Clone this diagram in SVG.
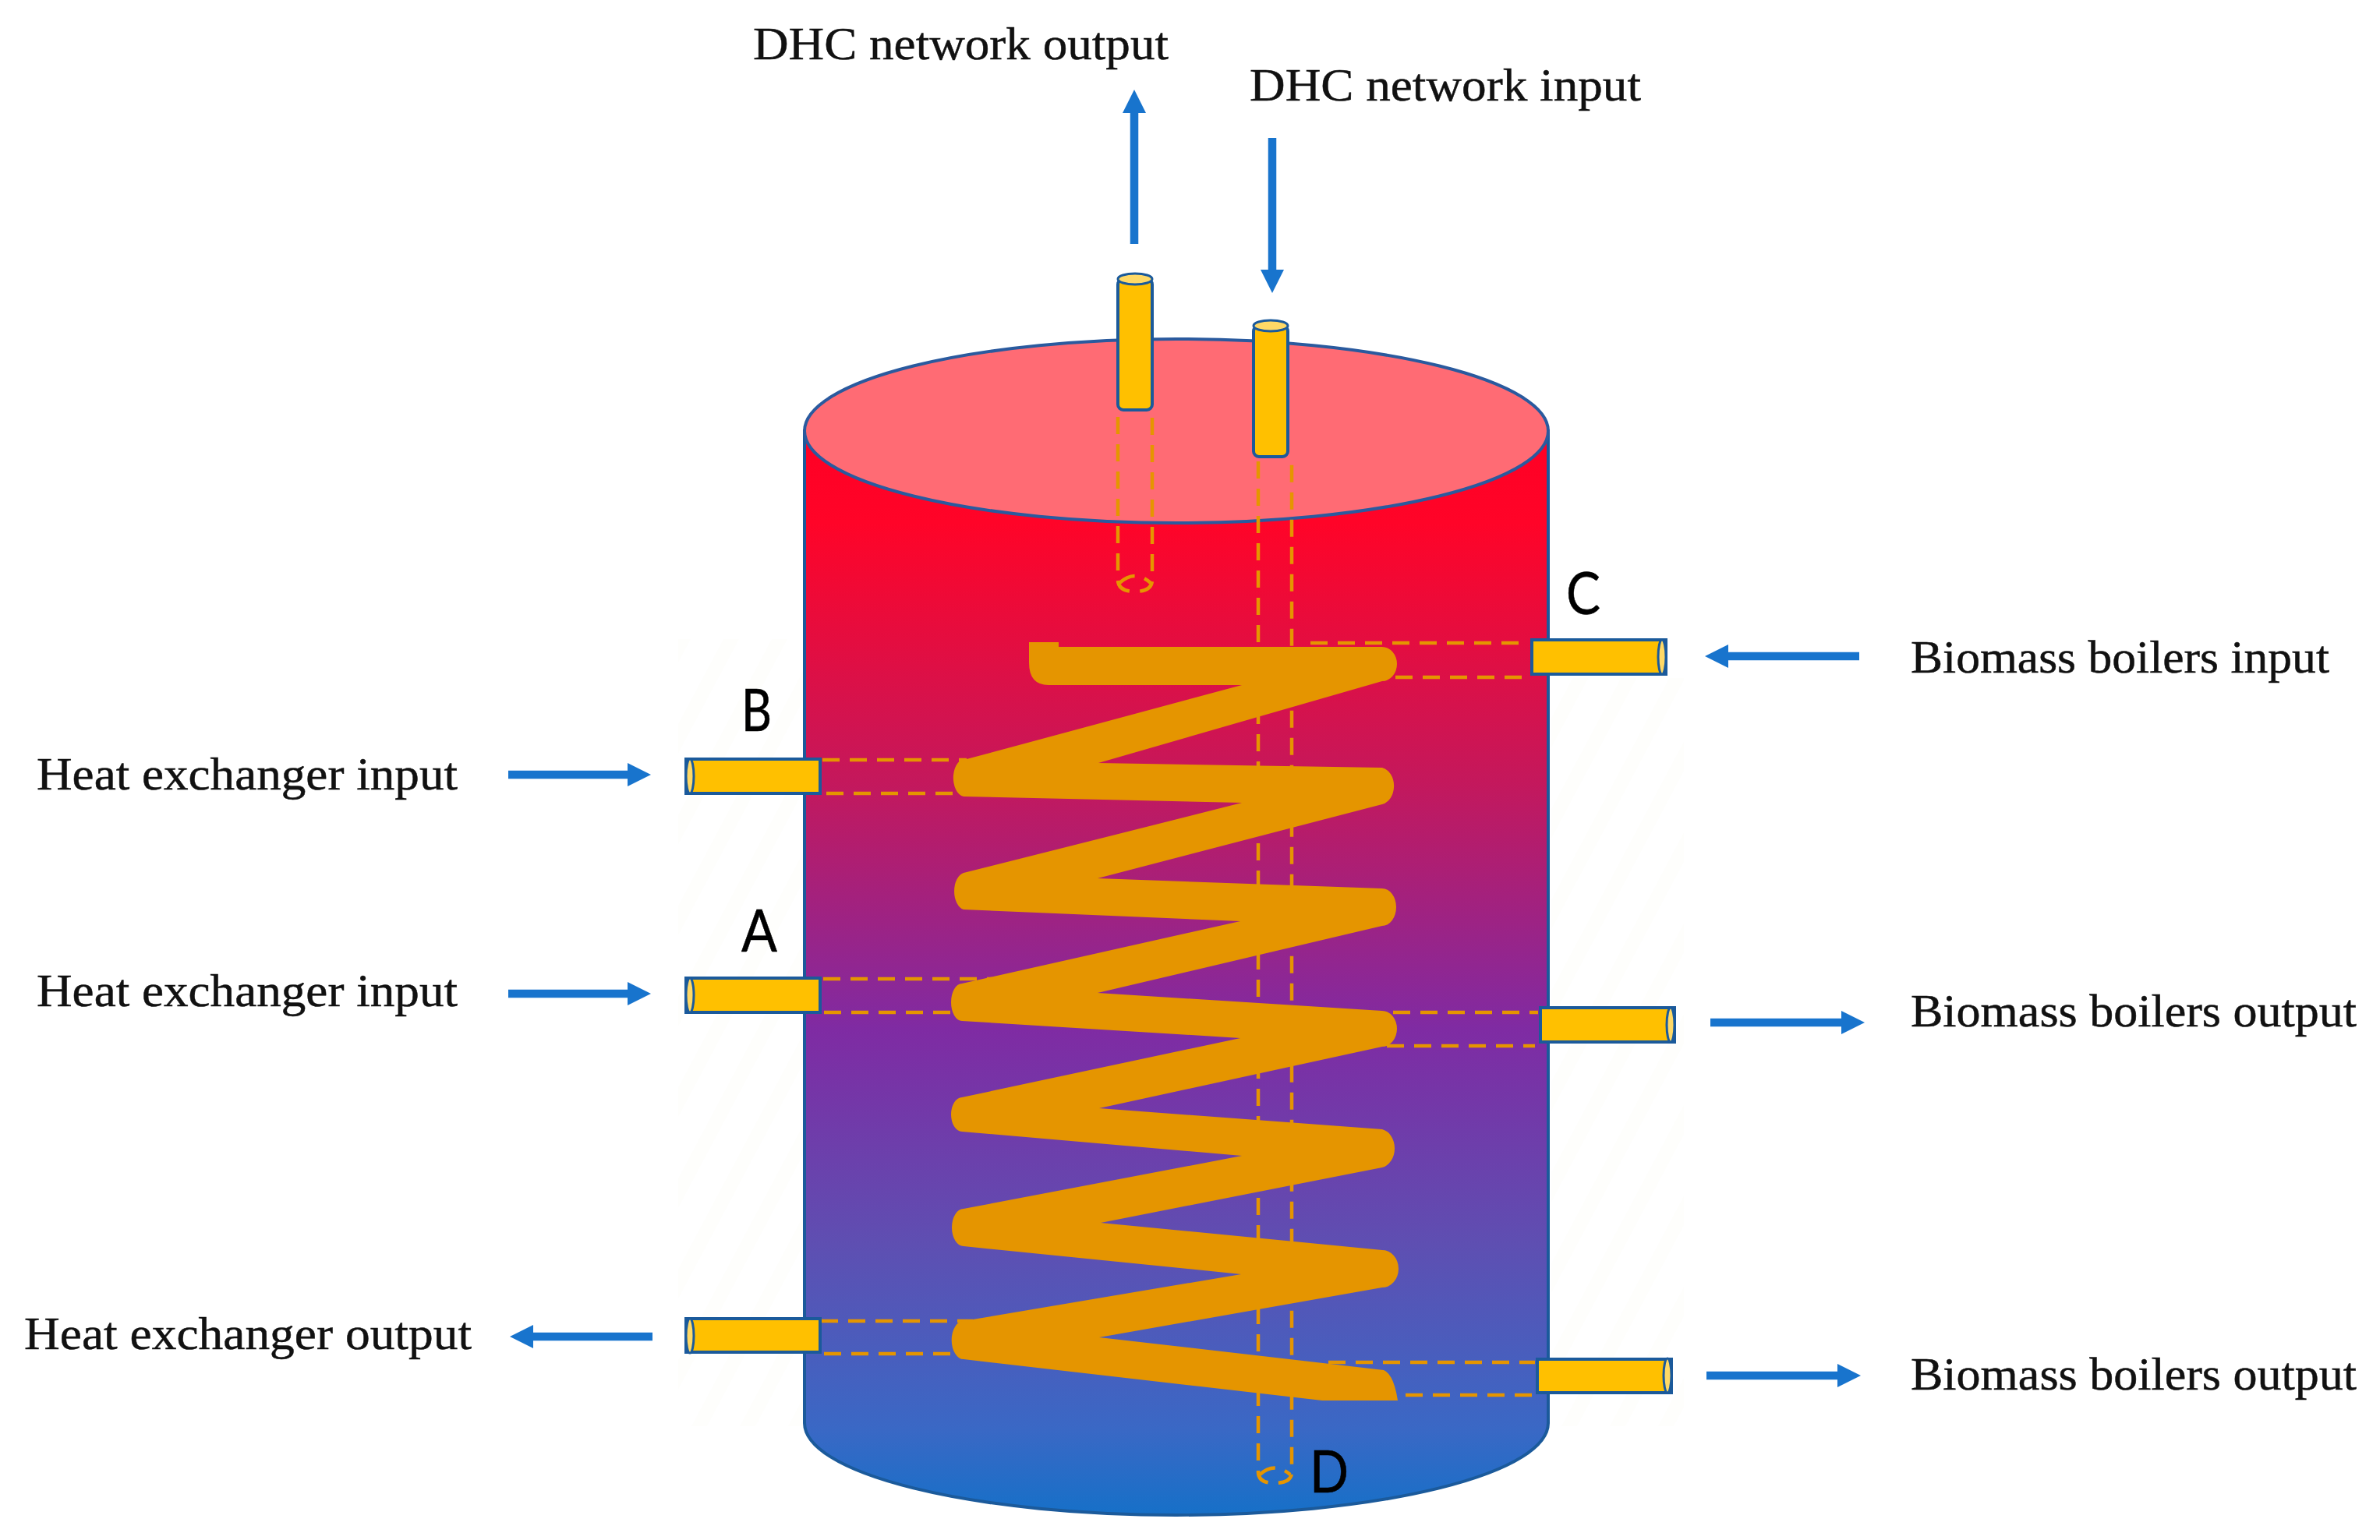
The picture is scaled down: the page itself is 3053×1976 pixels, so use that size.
<svg xmlns="http://www.w3.org/2000/svg" width="3053" height="1976" viewBox="0 0 3053 1976">
<style>
.lbl{font-family:"Liberation Serif","Times New Roman",serif;font-size:60px;fill:#111;stroke:#111;stroke-width:.5}
.let{font-family:"Lato","Liberation Sans",sans-serif;font-size:76px;fill:#000;stroke:#000;stroke-width:.6}
.port{fill:#FFC000;stroke:#1B5A9B;stroke-width:4}
.cap{fill:#FFD966;stroke:#1B5A9B;stroke-width:3}
.dash{fill:none;stroke:#E59500;stroke-width:4.5;stroke-dasharray:22 13}
.conn{fill:none;stroke:#1874CD;stroke-width:10.5}
</style>
<defs>
<linearGradient id="tankGrad" gradientUnits="userSpaceOnUse" x1="0" y1="560" x2="0" y2="1944">
<stop offset="0" stop-color="#FF0024"/>
<stop offset="0.08" stop-color="#FF0428"/>
<stop offset="0.32" stop-color="#C4185C"/>
<stop offset="0.55" stop-color="#7F2BA3"/>
<stop offset="0.75" stop-color="#5E4FB2"/>
<stop offset="0.92" stop-color="#3A68C5"/>
<stop offset="1" stop-color="#1670C8"/>
</linearGradient>
<pattern id="hatch" width="62" height="100" patternUnits="userSpaceOnUse" patternTransform="skewX(-28)">
<rect x="0" y="0" width="20" height="100" fill="#FBFAF6"/>
</pattern>
<marker id="ah" markerUnits="userSpaceOnUse" markerWidth="34" markerHeight="34" refX="2" refY="15" orient="auto">
<path d="M0 0L30 15L0 30z" fill="#1874CD"/>
</marker>
</defs>
<rect width="3053" height="1976" fill="#fff"/>
<g id="hatching">
<rect x="870" y="820" width="162" height="1010" fill="url(#hatch)" opacity=".3"/>
<rect x="1990" y="870" width="170" height="960" fill="url(#hatch)" opacity=".3"/>
</g>
<g id="tank">
<path d="M1032 553V1826A477 118 0 0 0 1986 1826V553z" fill="url(#tankGrad)" stroke="#1B5A9B" stroke-width="4"/>
<ellipse cx="1509" cy="553" rx="477" ry="118" fill="#FF6B74" stroke="#2A5A9E" stroke-width="4"/>
</g>
<g id="hidden-pipes">
<path class="dash" d="M1434 535V745Q1435 759 1456 759Q1477 759 1478 745V535"/>
<path class="dash" d="M1436 748Q1456 730 1476 748" stroke-dasharray="8 8"/>
<path class="dash" d="M1614 592V1890Q1615 1903 1635 1903Q1656 1903 1657 1890V592"/>
<path class="dash" d="M1616 1892Q1635 1875 1655 1892" stroke-dasharray="8 8"/>
<path class="dash" d="M1681 825H1960M1790 869H1960"/>
<path class="dash" d="M1055 975H1240M1060 1018H1225"/>
<path class="dash" d="M1056 1256H1273M1057 1299H1221"/>
<path class="dash" d="M1053 1695H1248M1057 1737H1221"/>
<path class="dash" d="M1787 1299H1973M1779 1342H1969"/>
<path class="dash" d="M1704 1748H1969M1803 1790H1969"/>
</g>
<g id="coil">
<path fill="#E59500" d="M1320 824H1358V830H1773A19 22 0 0 1 1773 874L1409 979L1773 985A19 24 0 0 1 1773 1032L1408 1127L1773 1140A18 24 0 0 1 1773 1188L1408 1274L1773 1297A19 23 0 0 1 1773 1343L1410 1422L1773 1449A20 25 0 0 1 1773 1498L1412 1569L1773 1604A21 24 0 0 1 1773 1652L1410 1716L1775 1758Q1788 1764 1793 1797H1696L1236 1744A15 24 0 0 1 1236 1695L1592 1635L1236 1599A15 24 0 0 1 1236 1551L1593 1483L1234 1452A14 22 0 0 1 1234 1408L1591 1332L1234 1310A14 24 0 0 1 1234 1262L1591 1182L1236 1167A15 24 0 0 1 1236 1120L1593 1030L1236 1022A15 24 0 0 1 1240 974L1593 879H1345Q1320 879 1320 850z"/>
</g>
<g id="port-dhc-output">
<rect class="port" x="1434" y="358" width="44" height="168" rx="7"/>
<ellipse class="cap" cx="1456" cy="358" rx="22" ry="7"/>
</g>
<g id="port-dhc-input">
<rect class="port" x="1608" y="418" width="44" height="168" rx="7"/>
<ellipse class="cap" cx="1630" cy="418" rx="22" ry="7"/>
</g>
<g id="port-biomass-input">
<rect class="port" x="1965" y="821" width="172" height="44"/>
<ellipse class="cap" cx="2132" cy="843" rx="5" ry="22"/>
</g>
<g id="port-biomass-output-1">
<rect class="port" x="1976" y="1293" width="172" height="44"/>
<ellipse class="cap" cx="2143" cy="1315" rx="5" ry="22"/>
</g>
<g id="port-biomass-output-2">
<rect class="port" x="1972" y="1744" width="172" height="43"/>
<ellipse class="cap" cx="2139" cy="1765" rx="5" ry="22"/>
</g>
<g id="port-he-input-b">
<rect class="port" x="880" y="974" width="172" height="44"/>
<ellipse class="cap" cx="885" cy="996" rx="5" ry="22"/>
</g>
<g id="port-he-input-a">
<rect class="port" x="880" y="1255" width="172" height="44"/>
<ellipse class="cap" cx="885" cy="1277" rx="5" ry="22"/>
</g>
<g id="port-he-output">
<rect class="port" x="880" y="1692" width="172" height="43"/>
<ellipse class="cap" cx="885" cy="1714" rx="5" ry="22"/>
</g>
<g id="connectors">
<line class="conn" x1="1455" y1="313" x2="1455" y2="143" marker-end="url(#ah)"/>
<line class="conn" x1="1632" y1="177" x2="1632" y2="348" marker-end="url(#ah)"/>
<line class="conn" x1="652" y1="994" x2="807" y2="994" marker-end="url(#ah)"/>
<line class="conn" x1="652" y1="1275" x2="807" y2="1275" marker-end="url(#ah)"/>
<line class="conn" x1="837" y1="1715" x2="682" y2="1715" marker-end="url(#ah)"/>
<line class="conn" x1="2385" y1="842" x2="2215" y2="842" marker-end="url(#ah)"/>
<line class="conn" x1="2194" y1="1312" x2="2364" y2="1312" marker-end="url(#ah)"/>
<line class="conn" x1="2189" y1="1765" x2="2359" y2="1765" marker-end="url(#ah)"/>
</g>
<g id="labels">
<text class="lbl" x="966" y="76" textLength="533" lengthAdjust="spacingAndGlyphs">DHC network output</text>
<text class="lbl" x="1603" y="129" textLength="502" lengthAdjust="spacingAndGlyphs">DHC network input</text>
<text class="lbl" x="47" y="1013" textLength="540" lengthAdjust="spacingAndGlyphs">Heat exchanger input</text>
<text class="lbl" x="47" y="1291" textLength="540" lengthAdjust="spacingAndGlyphs">Heat exchanger input</text>
<text class="lbl" x="31" y="1731" textLength="574" lengthAdjust="spacingAndGlyphs">Heat exchanger output</text>
<text class="lbl" x="2451" y="863" textLength="537" lengthAdjust="spacingAndGlyphs">Biomass boilers input</text>
<text class="lbl" x="2451" y="1317" textLength="572" lengthAdjust="spacingAndGlyphs">Biomass boilers output</text>
<text class="lbl" x="2451" y="1783" textLength="572" lengthAdjust="spacingAndGlyphs">Biomass boilers output</text>
<text class="let" x="951" y="938" textLength="39" lengthAdjust="spacingAndGlyphs">B</text>
<text class="let" x="951" y="1221" textLength="46" lengthAdjust="spacingAndGlyphs">A</text>
<text class="let" x="2009" y="788" textLength="44" lengthAdjust="spacingAndGlyphs">C</text>
<text class="let" x="1680" y="1915" textLength="50" lengthAdjust="spacingAndGlyphs">D</text>
</g>
</svg>
